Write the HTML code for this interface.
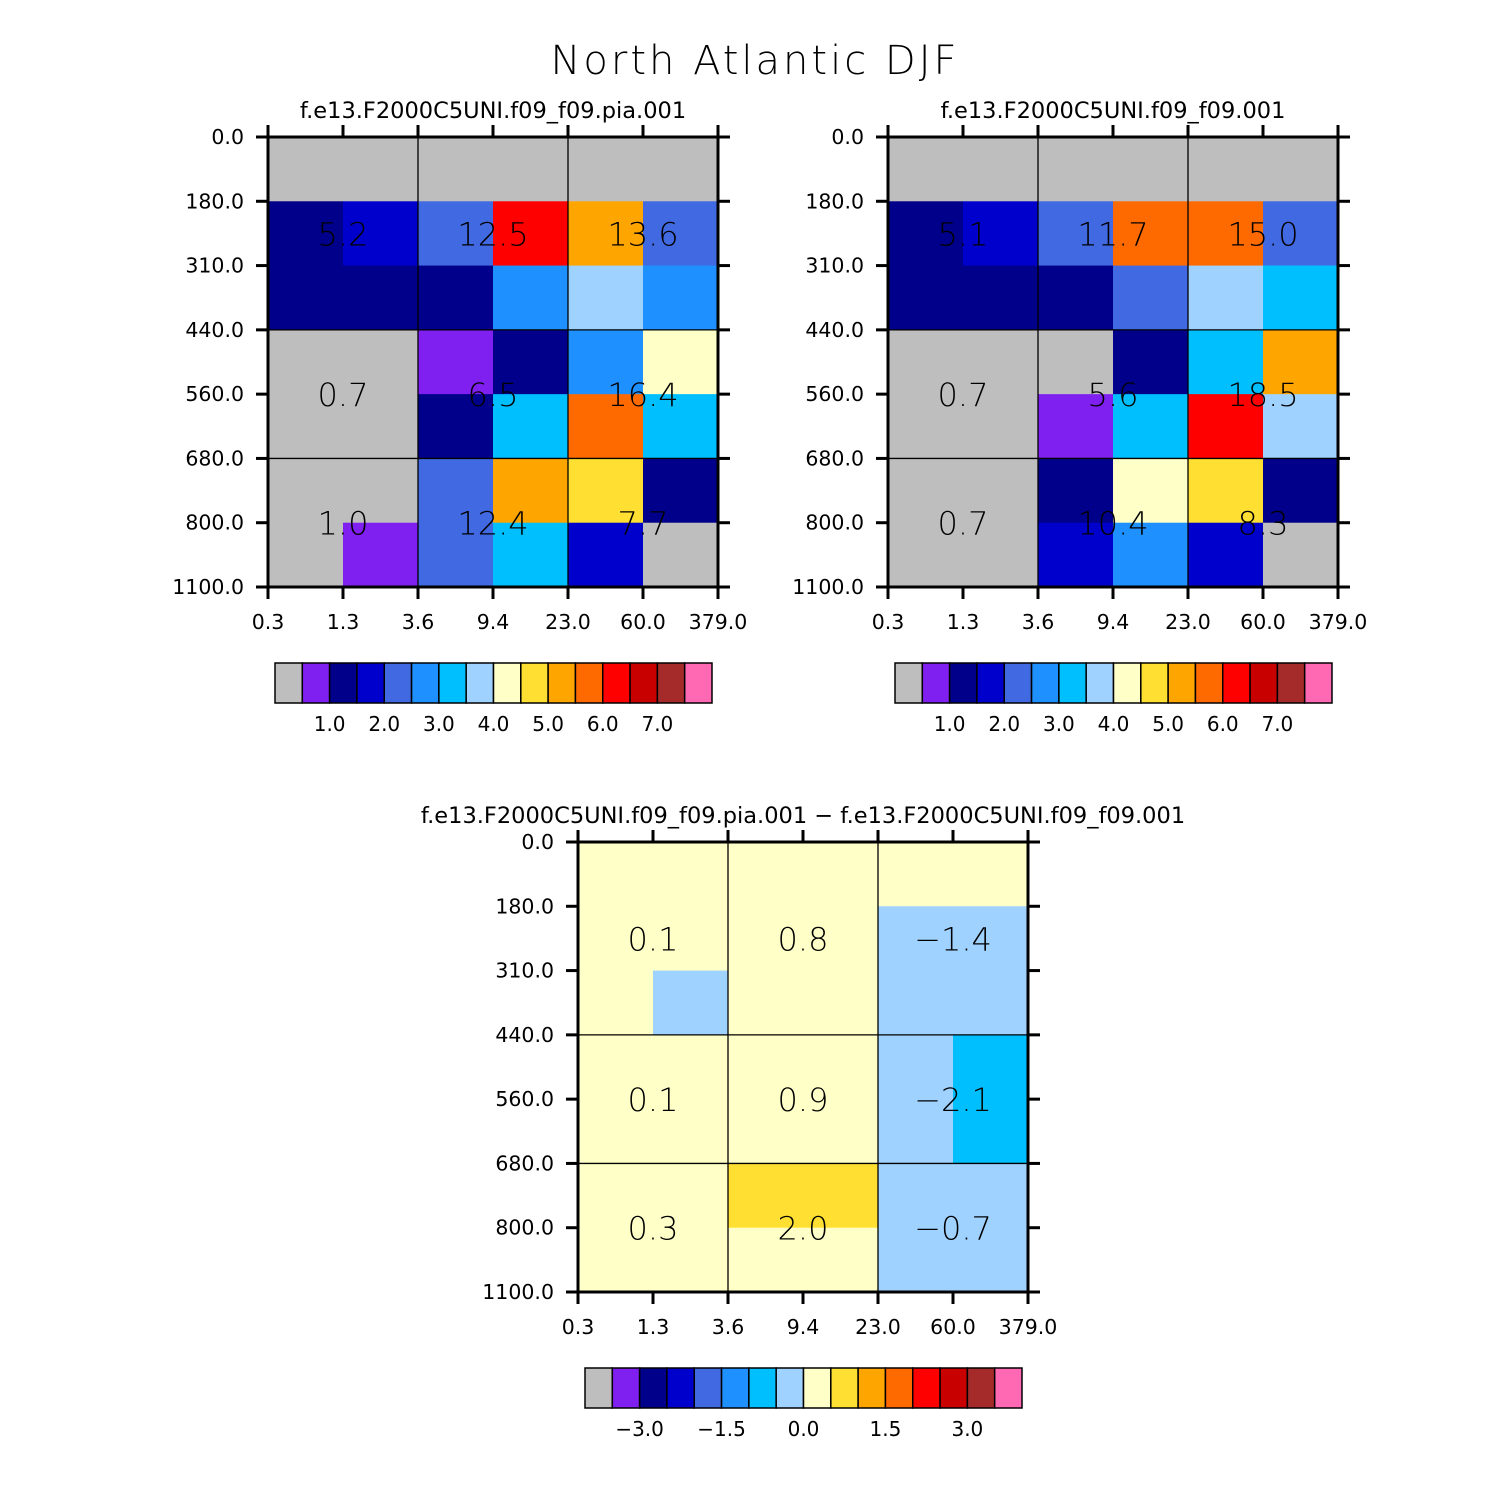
<!DOCTYPE html>
<html><head><meta charset="utf-8"><style>
html,body{margin:0;padding:0;background:#fff}
svg{display:block;font-family:"DejaVu Sans","Liberation Sans",sans-serif}
</style></head><body>
<svg id="s" width="1510" height="1510" viewBox="0 0 1510 1510">
<text x="755" y="74" font-size="40" text-anchor="middle" letter-spacing="3" font-weight="200">North Atlantic DJF</text>
</svg>
<script>
const xTicks=["0.3","1.3","3.6","9.4","23.0","60.0","379.0"];
const yTicks=["0.0","180.0","310.0","440.0","560.0","680.0","800.0","1100.0"];
const colors=["#BEBEBE","#8020F0","#00008B","#0000CD","#4169E1","#1E90FF","#00BFFF","#A0D2FF","#FFFFC8","#FFE032","#FFA500","#FF6A00","#FF0000","#C80000","#A52A2A","#FF69B4"];
const levelsAbs=[0.5,1,1.5,2,2.5,3,3.5,4,4.5,5,5.5,6,6.5,7,7.5];
const levelsDiff=[-3.5,-3,-2.5,-2,-1.5,-1,-0.5,0,0.5,1,1.5,2,2.5,3,3.5];
const cbLabelsAbs=["1.0","2.0","3.0","4.0","5.0","6.0","7.0"];
const cbLabelsDiff=["-3.0","-1.5","0.0","1.5","3.0"];
const p1Values=[
[0.2,0.3,0.3,0.3,0.3,0.2],
[1.2,1.7,2.2,6.2,5.2,2.3],
[1.1,1.3,1.4,2.8,3.7,2.7],
[0.2,0.3,0.8,1.2,2.7,4.2],
[0.1,0.2,1.3,3.2,5.7,3.3],
[0.2,0.3,2.2,5.2,4.7,1.2],
[0.1,0.6,2.3,3.2,1.8,0.3]];
const p2Values=[
[0.2,0.3,0.3,0.3,0.3,0.2],
[1.2,1.7,2.2,5.7,5.8,2.3],
[1.1,1.3,1.4,2.2,3.7,3.2],
[0.2,0.3,0.3,1.2,3.2,5.2],
[0.1,0.2,0.8,3.2,6.2,3.7],
[0.2,0.3,1.2,4.2,4.7,1.2],
[0.1,0.3,1.8,2.7,1.8,0.3]];
const p3Values=[
[0.1,0.1,0.1,0.1,0.1,0.1],
[0.1,0.1,0.1,0.3,-0.3,-0.2],
[0.1,-0.2,0.1,0.1,-0.3,-0.3],
[0.1,0.1,0.3,0.1,-0.3,-0.7],
[0.1,0.1,0.3,0.1,-0.3,-0.6],
[0.1,0.1,0.7,0.6,-0.2,-0.1],
[0.1,0.1,0.3,0.2,-0.2,-0.1]];
const p1Labels=["5.2","12.5","13.6","0.7","6.5","16.4","1.0","12.4","7.7"];
const p2Labels=["5.1","11.7","15.0","0.7","5.6","18.5","0.7","10.4","8.3"];
const p3Labels=["0.1","0.8","\u22121.4","0.1","0.9","\u22122.1","0.3","2.0","\u22120.7"];

const NS="http://www.w3.org/2000/svg";
const svg=document.getElementById('s');
function mk(tag,attrs,parent){const e=document.createElementNS(NS,tag);for(const k in attrs)e.setAttribute(k,attrs[k]);(parent||svg).appendChild(e);return e;}
function colorFor(v,lv){let i=0;while(i<lv.length&&v>=lv[i])i++;return colors[i];}

function panel(px,py,title,vals,labels,lv,cbx,cby,cbLabels,cbStep,name){
  const W=450,H=450,nc=6,nr=7;
  const g=mk('g',{});
  
  
  const xs=c=>px+c*W/nc, ys=r=>py+r*H/nr;
  for(let r=0;r<nr;r++)for(let c=0;c<nc;c++){
    const e=mk('rect',{x:xs(c),y:ys(r),width:W/nc+0.5,height:H/nr+0.5,fill:colorFor(vals[r][c],lv)},g);
    
    
  }
  [2,4].forEach(c=>mk('line',{x1:xs(c),x2:xs(c),y1:py,y2:py+H,stroke:'#000','stroke-width':1.3},g));
  [3,5].forEach(r=>mk('line',{x1:px,x2:px+W,y1:ys(r),y2:ys(r),stroke:'#000','stroke-width':1.3},g));
  const bx=[1,3,5],byRow=[1.5,4,6];
  for(let i=0;i<3;i++)for(let j=0;j<3;j++){
    const cy=ys(byRow[i]);
    const t=mk('text',{x:xs(bx[j]),y:cy+12,'font-size':32,'font-weight':200,'text-anchor':'middle'},g);
    t.textContent=labels[i*3+j];
    
    
  }
  mk('rect',{x:px,y:py,width:W,height:H,fill:'none',stroke:'#000','stroke-width':3},g);
  xTicks.forEach((l,i)=>{const x=xs(i);
    mk('line',{x1:x,x2:x,y1:py-12,y2:py,stroke:'#000','stroke-width':3},g);
    mk('line',{x1:x,x2:x,y1:py+H,y2:py+H+12,stroke:'#000','stroke-width':3},g);
    const t=mk('text',{x:x,y:py+H+42,'font-size':20.5,'text-anchor':'middle'},g);t.textContent=l;
    });
  yTicks.forEach((l,i)=>{const y=ys(i);
    mk('line',{x1:px-12,x2:px,y1:y,y2:y,stroke:'#000','stroke-width':3},g);
    mk('line',{x1:px+W,x2:px+W+12,y1:y,y2:y,stroke:'#000','stroke-width':3},g);
    const t=mk('text',{x:px-24,y:y+7,'font-size':20.5,'text-anchor':'end'},g);t.textContent=l;
    });
  const tt=mk('text',{x:px+W/2,y:py-19,'font-size':22.5,'text-anchor':'middle'},g);tt.textContent=title;
  
  const bw=437/16;
  const cb=mk('g',{},g);
  
  colors.forEach((c,i)=>mk('rect',{x:cbx+i*bw,y:cby,width:bw,height:40,fill:c,stroke:'#000','stroke-width':1.5},cb));
  cbLabels.forEach((l,i)=>{const t=mk('text',{x:cbx+(2+i*cbStep)*bw,y:cby+68,'font-size':20,'text-anchor':'middle'},cb);
    t.textContent=l.replace('-','\u2212');});
}
panel(268,137,"f.e13.F2000C5UNI.f09_f09.pia.001",p1Values,p1Labels,levelsAbs,275,663,cbLabelsAbs,2,'panel-pia');
panel(888,137,"f.e13.F2000C5UNI.f09_f09.001",p2Values,p2Labels,levelsAbs,895,663,cbLabelsAbs,2,'panel-control');
panel(578,842,"f.e13.F2000C5UNI.f09_f09.pia.001 \u2212 f.e13.F2000C5UNI.f09_f09.001",p3Values,p3Labels,levelsDiff,585,1368,cbLabelsDiff,3,'panel-difference');
</script>
</body></html>
